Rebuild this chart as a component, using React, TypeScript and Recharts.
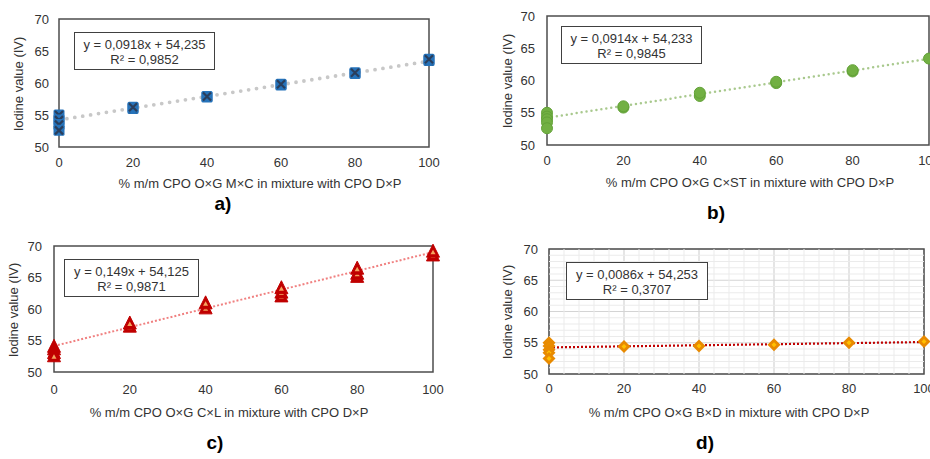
import React from 'react';
import {
  ScatterChart,
  Scatter,
  XAxis,
  YAxis,
  CartesianGrid,
  ReferenceLine,
  ReferenceArea
} from 'recharts';

const xTicks = [0, 20, 40, 60, 80, 100];
const yTicks = [50, 55, 60, 65, 70];

// d) minor gridlines
const minorX = [4, 8, 12, 16, 24, 28, 32, 36, 44, 48, 52, 56, 64, 68, 72, 76, 84, 88, 92, 96];
const minorY = [51, 52, 53, 54, 56, 57, 58, 59, 61, 62, 63, 64, 66, 67, 68, 69];

// a) O×G M×C
const mxcX = [0, 0, 0, 0, 20, 20, 40, 40, 60, 60, 80, 80, 100, 100];
const mxcY = [55.0, 54.2, 53.5, 52.6, 56.0, 56.2, 57.8, 57.9, 59.7, 59.8, 61.5, 61.6, 63.5, 63.7];
const mxcTrend = [54.235, 63.415];

// b) O×G C×ST
const cstX = [0, 0, 0, 0, 0, 20, 20, 40, 40, 60, 60, 80, 80, 100];
const cstY = [55.0, 54.4, 54.0, 53.5, 52.6, 55.8, 56.0, 57.6, 58.1, 59.6, 59.8, 61.4, 61.6, 63.4];
const cstTrend = [54.233, 63.373];

// c) O×G C×L
const clX = [0, 0, 0, 0, 20, 20, 40, 40, 60, 60, 60, 80, 80, 80, 100, 100];
const clY = [54.0, 53.6, 53.0, 52.5, 57.2, 57.7, 60.1, 60.9, 62.0, 62.6, 63.3, 65.1, 65.6, 66.4, 68.5, 69.1];
const clTrend = [54.125, 69.025];

// d) O×G B×D
const bdX = [0, 0, 0, 0, 0, 20, 40, 60, 80, 100];
const bdY = [55.0, 54.5, 53.9, 53.4, 52.5, 54.4, 54.5, 54.7, 55.0, 55.2];
const bdTrend = [54.253, 55.113];

const FONT = '"Liberation Sans", Arial, sans-serif';
const TEXT = '#333';

const SquareX = (p: any) => {
  const { cx, cy } = p;
  return (
    <g>
      <rect x={cx - 5.5} y={cy - 5.5} width={11} height={11} rx={1.5} fill="#2673BA" />
      <path d={`M${cx - 4},${cy - 4}L${cx + 4},${cy + 4}M${cx + 4},${cy - 4}L${cx - 4},${cy + 4}`} stroke="#2A3E5C" strokeWidth={2.2} />
    </g>
  );
};

const Dot = (p: any) => (
  <circle cx={p.cx} cy={p.cy} r={5.5} fill="#72B043" stroke="#63A238" strokeWidth={1} />
);

const Tri = (p: any) => {
  const { cx, cy } = p;
  return (
    <g>
      <path d={`M${cx},${cy - 7.5}L${cx + 6.5},${cy + 5.5}L${cx - 6.5},${cy + 5.5}Z`} fill="#C00000" stroke="#C00000" strokeWidth={1} strokeLinejoin="round" />
      <path d={`M${cx},${cy - 2}L${cx + 2.5},${cy + 2.5}L${cx - 2.5},${cy + 2.5}Z`} fill="#F4A460" />
    </g>
  );
};

const Diamond = (p: any) => {
  const { cx, cy } = p;
  return (
    <g>
      <path d={`M${cx},${cy - 6.5}L${cx + 6.5},${cy}L${cx},${cy + 6.5}L${cx - 6.5},${cy}Z`} fill="#E88A00" />
      <path d={`M${cx},${cy - 2.5}L${cx + 2.5},${cy}L${cx},${cy + 2.5}L${cx - 2.5},${cy}Z`} fill="#FFC000" />
    </g>
  );
};

interface PanelProps {
  left: number;
  top: number;
  w: number;
  h: number;
  xs: number[];
  ys: number[];
  trend: number[];
  shape: (p: any) => React.ReactElement;
  trendColor: string;
  trendWidth: number;
  trendDash: string;
  trendCap?: 'round' | 'butt';
  yMargin: number;
  xMargin: number;
  grid?: boolean;
}

const Panel: React.FC<PanelProps> = ({
  left, top, w, h, xs, ys, trend, shape, trendColor, trendWidth, trendDash, trendCap = 'butt',
  yMargin, xMargin, grid = false
}) => {
  const data = xs.map((x, i) => ({ x, y: ys[i] }));
  return (
    <div style={{ position: 'absolute', left: left - 45, top: top - 10 }}>
      <ScatterChart
        width={w + 65}
        height={h + 40}
        margin={{ top: 10, right: 20, bottom: 0, left: 0 }}
      >
        {grid && <CartesianGrid stroke="#D4D4D4" strokeWidth={1.2} />}
        {grid && minorX.map(v => (
          <ReferenceLine key={'mx' + v} x={v} stroke="#EBEBEB" strokeWidth={1} />
        ))}
        {grid && minorY.map(v => (
          <ReferenceLine key={'my' + v} y={v} stroke="#EBEBEB" strokeWidth={1} />
        ))}
        <XAxis
          type="number"
          dataKey="x"
          domain={[0, 100]}
          ticks={xTicks}
          height={30}
          axisLine={false}
          tickLine={false}
          tickMargin={xMargin}
          tick={{ fill: TEXT, fontSize: 13, fontFamily: FONT }}
        />
        <YAxis
          type="number"
          dataKey="y"
          domain={[50, 70]}
          ticks={yTicks}
          width={45}
          axisLine={false}
          tickLine={false}
          tickMargin={yMargin}
          tick={{ fill: TEXT, fontSize: 13, fontFamily: FONT }}
        />
        <ReferenceArea x1={0} x2={100} y1={50} y2={70} fill="none" stroke="#4D4D4D" strokeWidth={1.5} />
        <Scatter data={data} shape={shape} isAnimationActive={false} />
        <ReferenceLine
          segment={[{ x: 0, y: trend[0] }, { x: 100, y: trend[1] }]}
          stroke={trendColor}
          strokeWidth={trendWidth}
          strokeDasharray={trendDash}
          strokeLinecap={trendCap}
        />
      </ScatterChart>
    </div>
  );
};

const abs = (x: number, y: number, extra: React.CSSProperties = {}): React.CSSProperties => ({
  position: 'absolute',
  left: x,
  top: y,
  transform: 'translate(-50%, -50%)',
  whiteSpace: 'nowrap',
  fontFamily: FONT,
  color: TEXT,
  fontSize: 13,
  ...extra
});

const EqBox = ({ x, y, w, l1, l2 }: { x: number; y: number; w: number; l1: string; l2: string }) => (
  <div
    style={{
      position: 'absolute',
      left: x,
      top: y,
      width: w,
      height: 38,
      border: '1px solid #404040',
      background: '#fff',
      fontFamily: FONT,
      fontSize: 13,
      color: TEXT,
      textAlign: 'center',
      lineHeight: '15px',
      paddingTop: 4,
      boxSizing: 'border-box'
    }}
  >
    <div>{l1}</div>
    <div>{l2}</div>
  </div>
);

export default function App() {
  return (
    <div style={{ position: 'absolute', left: 0, top: 0, width: 930, height: 459, overflow: 'hidden', background: '#fff' }}>
      <Panel left={59} top={19} w={370} h={128} xs={mxcX} ys={mxcY} trend={mxcTrend} shape={SquareX}
        trendColor="#C8C8C8" trendWidth={3.8} trendDash="0 8" trendCap="round" yMargin={4} xMargin={5} />
      <Panel left={547} top={16} w={382} h={129} xs={cstX} ys={cstY} trend={cstTrend} shape={Dot}
        trendColor="#A9C98E" trendWidth={2.5} trendDash="0 5" trendCap="round" yMargin={6} xMargin={5} />
      <Panel left={54} top={246} w={379} h={126} xs={clX} ys={clY} trend={clTrend} shape={Tri}
        trendColor="#F08080" trendWidth={2} trendDash="2 2" yMargin={6} xMargin={7} />
      <Panel left={549} top={249} w={375} h={125} xs={bdX} ys={bdY} trend={bdTrend} shape={Diamond}
        trendColor="#C00000" trendWidth={2.2} trendDash="2 2" yMargin={5} xMargin={4} grid />

      <EqBox x={74} y={32} w={141} l1="y = 0,0918x + 54,235" l2="R² = 0,9852" />
      <EqBox x={561} y={26} w={141} l1="y = 0,0914x + 54,233" l2="R² = 0,9845" />
      <EqBox x={64} y={259} w={135} l1="y = 0,149x + 54,125" l2="R² = 0,9871" />
      <EqBox x={566} y={262} w={142} l1="y = 0,0086x + 54,253" l2="R² = 0,3707" />

      <div style={abs(18, 84, { transform: 'translate(-50%, -50%) rotate(-90deg)' })}>Iodine value (IV)</div>
      <div style={abs(507, 81, { transform: 'translate(-50%, -50%) rotate(-90deg)' })}>Iodine value (IV)</div>
      <div style={abs(13, 310, { transform: 'translate(-50%, -50%) rotate(-90deg)' })}>Iodine value (IV)</div>
      <div style={abs(507, 312, { transform: 'translate(-50%, -50%) rotate(-90deg)' })}>Iodine value (IV)</div>

      <div style={abs(260, 183)}>% m/m CPO O×G M×C in mixture with CPO D×P</div>
      <div style={abs(750, 182)}>% m/m CPO O×G C×ST in mixture with CPO D×P</div>
      <div style={abs(229, 412)}>% m/m CPO O×G C×L in mixture with CPO D×P</div>
      <div style={abs(729, 412)}>% m/m CPO O×G B×D in mixture with CPO D×P</div>

      <div style={abs(223, 204, { fontSize: 19, fontWeight: 'bold', color: '#000' })}>a)</div>
      <div style={abs(716, 213, { fontSize: 19, fontWeight: 'bold', color: '#000' })}>b)</div>
      <div style={abs(215, 443, { fontSize: 19, fontWeight: 'bold', color: '#000' })}>c)</div>
      <div style={abs(705, 443, { fontSize: 19, fontWeight: 'bold', color: '#000' })}>d)</div>
    </div>
  );
}
